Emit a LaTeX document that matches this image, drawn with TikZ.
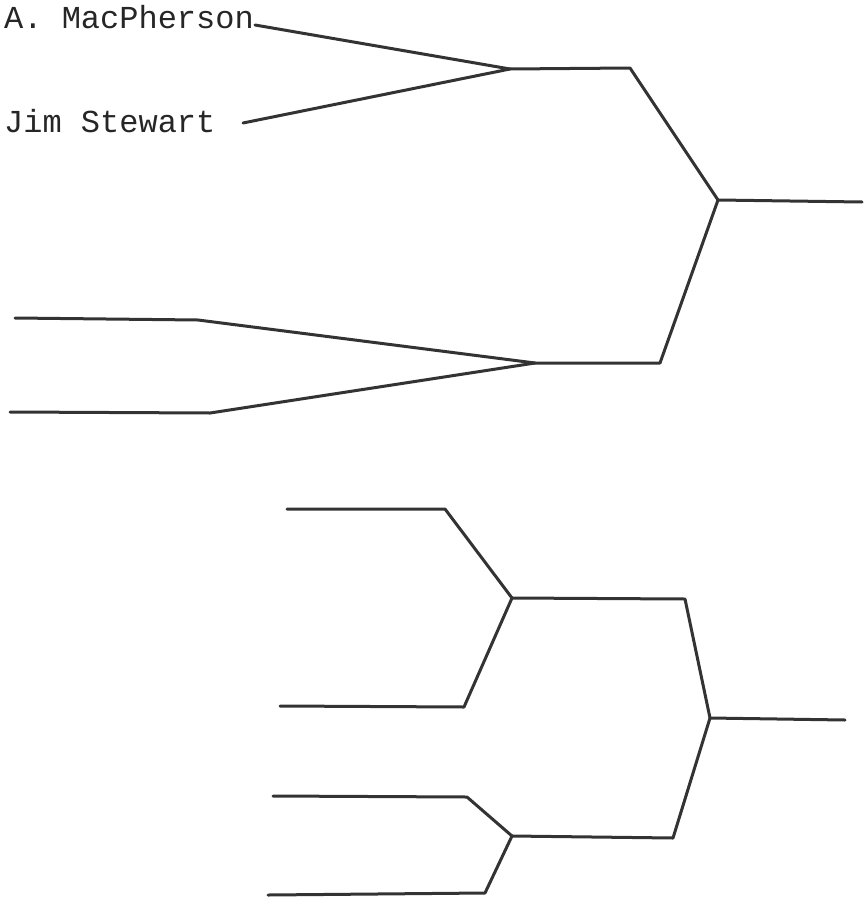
\documentclass[tikz,border=0pt]{standalone}
\usepackage{fontspec}
\newfontfamily\typew{Liberation Mono}
\begin{document}
\begin{tikzpicture}[x=1pt,y=-1pt,
  bline/.style={draw=black!80, line width=3pt, line join=round, line cap=round},
  plabel/.style={font=\typew\fontsize{32}{32}\selectfont, text=black!85, inner sep=0pt, anchor=base west}]
\useasboundingbox (0,0) rectangle (865,899);
% names
\node[plabel] (n1) at (4,29) {A. MacPherson};
\node[plabel] (n2) at (4,132) {Jim Stewart};
% upper bracket
\coordinate (a1) at (255,25);
\coordinate (a2) at (243,123);
\coordinate (j1) at (510,69);
\coordinate (j1r) at (630,68);
\coordinate (f1) at (718,200);
\coordinate (f1r) at (862,202);
\coordinate (j2r) at (660,363);
\coordinate (j2) at (535,363);
\coordinate (p3) at (15,318);
\coordinate (p3r) at (198,320);
\coordinate (p4) at (10,412);
\coordinate (p4r) at (210,413);
\draw[bline] (a1) -- (j1);
\draw[bline] (a2) -- (j1);
\draw[bline] (j1) -- (j1r) -- (f1) -- (f1r);
\draw[bline] (f1) -- (j2r) -- (j2);
\draw[bline] (p3) -- (p3r) -- (j2);
\draw[bline] (p4) -- (p4r) -- (j2);
% lower bracket
\coordinate (q1) at (287,509);
\coordinate (q1r) at (445,509);
\coordinate (k1) at (512,598);
\coordinate (q2) at (280,706);
\coordinate (q2r) at (464,707);
\coordinate (k1r) at (685,599);
\coordinate (g1) at (710,718);
\coordinate (g1r) at (845,720);
\coordinate (k2r) at (673,838);
\coordinate (k2) at (512,836);
\coordinate (q3) at (273,796);
\coordinate (q3r) at (467,797);
\coordinate (q4) at (268,895);
\coordinate (q4r) at (485,893);
\draw[bline] (q1) -- (q1r) -- (k1);
\draw[bline] (q2) -- (q2r) -- (k1);
\draw[bline] (k1) -- (k1r) -- (g1) -- (g1r);
\draw[bline] (g1) -- (k2r) -- (k2);
\draw[bline] (q3) -- (q3r) -- (k2);
\draw[bline] (q4) -- (q4r) -- (k2);
\end{tikzpicture}
\end{document}
